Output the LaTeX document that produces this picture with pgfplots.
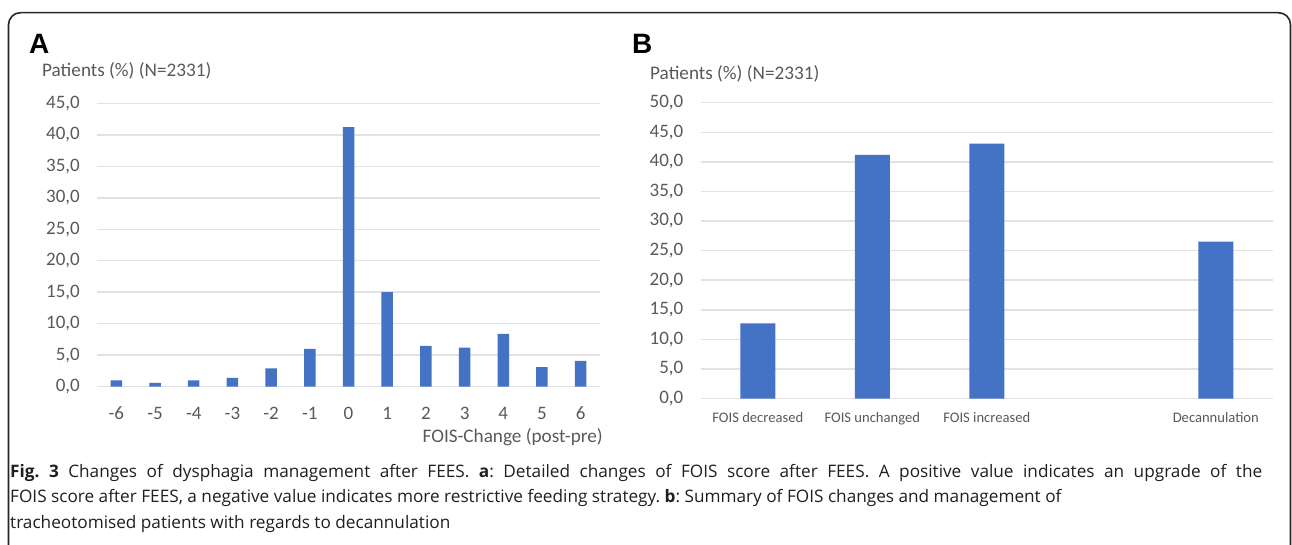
\documentclass[border=0pt]{standalone}
\usepackage{fontspec}
\setmainfont{Carlito}
\newfontfamily\capfont{Open Sans}
\newfontfamily\headfont{Liberation Sans}
\usepackage{pgfplots}
\pgfplotsset{compat=1.18}
\definecolor{tgray}{HTML}{595959}
\definecolor{gridc}{HTML}{E2E2E2}
\definecolor{barc}{HTML}{4472C4}
\begin{document}
\begin{tikzpicture}[x=1pt,y=1pt]
\useasboundingbox (0,0) rectangle (1292,544);
\draw[line width=1.6pt, color=black!85, rounded corners=12pt] (8.5,-20) -- (8.5,531.3) -- (1290.5,531.3) -- (1290.5,-20);
\pgfplotsset{
  myaxis/.style={
    anchor=south west, scale only axis, ybar, bar shift=0pt,
    enlargelimits=false, ymin=0,
    ymajorgrids, grid style={gridc, line width=1.5pt},
    axis line style={draw=none}, major tick length=0pt,
    tick label style={text=tgray, inner sep=0pt},
    yticklabel style={anchor=east, xshift=-17pt, font=\fontsize{19}{21}\selectfont},
  }
}
% Panel A
\begin{axis}[myaxis, at={(97pt,157.3pt)}, width=503pt, height=283.4pt,
  xmin=-6.5, xmax=6.5, ymax=45,
  ytick={0,5,10,15,20,25,30,35,40,45},
  yticklabels={{0,0},{5,0},{10,0},{15,0},{20,0},{25,0},{30,0},{35,0},{40,0},{45,0}},
  xtick={-6,-5,-4,-3,-2,-1,0,1,2,3,4,5,6},
  xticklabels={-6,-5,-4,-3,-2,-1,0,1,2,3,4,5,6},
  bar width=11.5pt,
  xticklabel style={anchor=base, yshift=-32.3pt, font=\fontsize{19}{21}\selectfont}]
\addplot[fill=barc, draw=none] coordinates {
(-6,1.0) (-5,0.6) (-4,1.0) (-3,1.4) (-2,2.9) (-1,6.0) (0,41.2)
(1,15.0) (2,6.5) (3,6.2) (4,8.4) (5,3.1) (6,4.1)};
\end{axis}
% Panel B
\begin{axis}[myaxis, at={(700.5pt,145.5pt)}, width=572.5pt, height=295.8pt,
  xmin=-0.5, xmax=4.5, ymax=50,
  ytick={0,5,10,15,20,25,30,35,40,45,50},
  yticklabels={{0,0},{5,0},{10,0},{15,0},{20,0},{25,0},{30,0},{35,0},{40,0},{45,0},{50,0}},
  xtick={0,1,2,4},
  xticklabels={FOIS decreased, FOIS unchanged, FOIS increased, Decannulation},
  bar width=35pt,
  xticklabel style={anchor=base, yshift=-24.2pt, font=\fontsize{14.6}{16}\selectfont}]
\addplot[fill=barc, draw=none] coordinates {
(0,12.7) (1,41.2) (2,43.1) (4,26.5)};
\end{axis}
% panel letters and titles
\node[anchor=base west, inner sep=0pt, font=\headfont\bfseries\fontsize{28}{30}\selectfont] at (29,490.7) {A};
\node[anchor=base west, inner sep=0pt, font=\headfont\bfseries\fontsize{28}{30}\selectfont] at (632,490.7) {B};
\node[anchor=base west, inner sep=0pt, text=tgray, font=\fontsize{19.2}{21}\selectfont] at (42,467) {Patients (\%) (N=2331)};
\node[anchor=base west, inner sep=0pt, text=tgray, font=\fontsize{19.2}{21}\selectfont] at (650,464.5) {Patients (\%) (N=2331)};
\node[anchor=base east, inner sep=0pt, text=tgray, font=\fontsize{19.2}{21}\selectfont] at (603,101.5) {FOIS-Change (post-pre)};
% caption
\begin{scope}[every node/.style={anchor=base west, inner sep=0pt, text=black!88, font=\capfont\fontsize{17.2}{20}\selectfont\frenchspacing}]
\node at (10,67) {\makebox[1252pt][s]{\textbf{Fig. 3} Changes of dysphagia management after FEES. \textbf{a}: Detailed changes of FOIS score after FEES. A positive value indicates an upgrade of the}};
\node at (10,41.5) {FOIS score after FEES, a negative value indicates more restrictive feeding strategy. \textbf{b}: Summary of FOIS changes and management of};
\node at (10,16) {tracheotomised patients with regards to decannulation};
\end{scope}
\end{tikzpicture}
\end{document}
